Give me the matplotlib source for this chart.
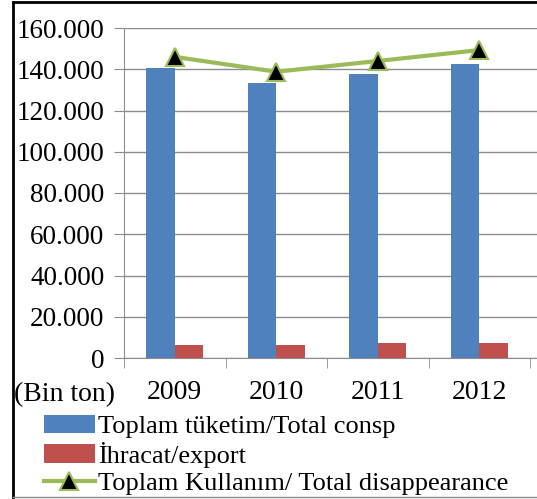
import numpy as np
import matplotlib.pyplot as plt
from matplotlib.ticker import FuncFormatter, FixedLocator
from matplotlib.lines import Line2D

plt.rcParams['font.family'] = ['Liberation Serif', 'DejaVu Serif']

# Data (tons)
years = ['2009', '2010', '2011', '2012']
consumption = [140500, 133200, 137500, 142500]
export = [6300, 6300, 7100, 7100]
disappearance = [146000, 138800, 144000, 149300]

y_ticks = [0, 20000, 40000, 60000, 80000, 100000, 120000, 140000, 160000]

fig = plt.figure(figsize=(5.37, 4.99), dpi=100)
ax = fig.add_axes([124 / 537, 1 - 358 / 499, 1 - 124 / 537, 330 / 499])

x = np.arange(len(years))
w = 0.28
b1 = ax.bar(x - w / 2, consumption, w, color='#4F81BD', label='Toplam tüketim/Total consp', zorder=2)
b2 = ax.bar(x + w / 2, export, w, color='#C0504D', label='İhracat/export', zorder=2)
ln, = ax.plot(x, disappearance, color='#9BBB59', lw=3, marker='^', markersize=13,
              markerfacecolor='black', markeredgecolor='#9BBB59', markeredgewidth=1.5,
              label='Toplam Kullanım/ Total disappearance', zorder=3)

ax.set_xlim(-0.5, -0.5 + 413 / 101.5)
ax.set_ylim(0, 160000)
ax.set_yticks(y_ticks)
ax.yaxis.set_major_formatter(FuncFormatter(lambda v, p: f'{int(v):,}'.replace(',', '.')))
ax.grid(axis='y', color='#8C8C8C', lw=1, zorder=0)

ax.set_xticks(x)
ax.set_xticklabels(years)
ax.xaxis.set_minor_locator(FixedLocator(np.arange(-0.5, 4.0, 1.0)))
ax.tick_params(axis='x', which='major', length=0, pad=16, labelsize=20)
ax.tick_params(axis='x', which='minor', length=7, color='#8C8C8C', direction='out')
ax.tick_params(axis='y', length=7, color='#8C8C8C', labelsize=19.5, pad=7)

for s in ['top', 'right']:
    ax.spines[s].set_visible(False)
ax.spines['left'].set_color('#8C8C8C')
ax.spines['bottom'].set_color('#8C8C8C')

fig.text(14 / 537, 1 - 395 / 499, '(Bin ton)', fontsize=20, va='center', ha='left')

fig.legend([b1, b2, ln], [b1.get_label(), b2.get_label(), ln.get_label()],
           loc='upper left', bbox_to_anchor=(44 / 537, 1 - 415 / 499),
           frameon=False, fontsize=19, borderpad=0, borderaxespad=0,
           handlelength=1.93, handletextpad=0.12, labelspacing=0.13)

# outer frame of the original figure
fig.add_artist(Line2D([13 / 537, 13 / 537], [0, 1 - 2 / 499], color='black', lw=2,
                      transform=fig.transFigure))
fig.add_artist(Line2D([13 / 537, 1], [1 - 2 / 499, 1 - 2 / 499], color='black', lw=2,
                      transform=fig.transFigure))
fig.add_artist(Line2D([13 / 537, 1], [2 / 499, 2 / 499], color='#8C8C8C', lw=1,
                      transform=fig.transFigure))

fig.savefig('out.png', dpi=100)
